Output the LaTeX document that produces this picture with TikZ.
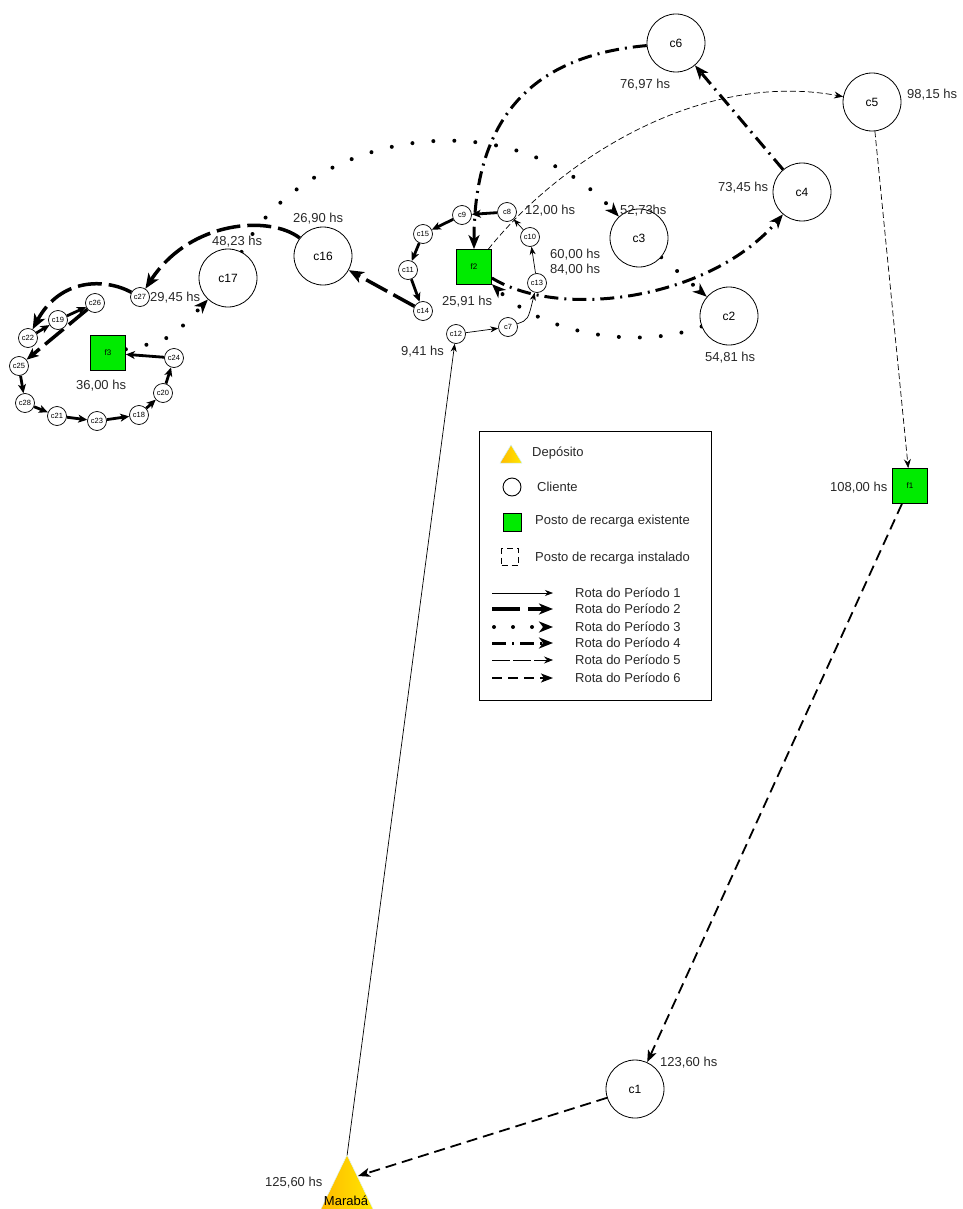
\documentclass[tikz,border=0pt]{standalone}
\usepackage{fontspec}
\setmainfont{Liberation Sans}
\usetikzlibrary{arrows.meta,backgrounds}
\definecolor{fgreen}{RGB}{0,235,0}
\definecolor{tgray}{RGB}{40,40,40}
\definecolor{dorange}{RGB}{255,185,0}
\definecolor{dyellow}{RGB}{255,232,0}
\tikzset{
  big/.style={circle, draw, line width=0.8pt, fill=white, minimum size=58pt, inner sep=0pt, font=\fontsize{12}{14}\selectfont},
  sml/.style={circle, draw, line width=0.7pt, fill=white, minimum size=19pt, inner sep=0pt, font=\fontsize{7.5}{8}\selectfont},
  sta/.style={rectangle, draw, line width=0.8pt, fill=fgreen, minimum size=35pt, inner sep=0pt, font=\fontsize{8}{9}\selectfont},
  ts/.style={anchor=west, inner sep=0pt, text=tgray, font=\fontsize{13}{15}\selectfont},
  pA/.style={line width=0.7pt, -{Stealth[length=8pt,width=6pt,inset=2.5pt]}},
  pB/.style={line width=3.5pt, dash pattern=on 24pt off 7pt, -{Stealth[length=15pt,width=12pt,inset=4pt]}},
  pBs/.style={line width=2.8pt, -{Stealth[length=9pt,width=8pt,inset=2.5pt]}},
  pC/.style={line width=4pt, line cap=round, dash pattern=on 0pt off 21pt, -{Stealth[length=14pt,width=11pt,inset=4pt]}},
  pD/.style={line width=3pt, dash pattern=on 14pt off 6pt on 2pt off 6pt, -{Stealth[length=14pt,width=11pt,inset=4pt]}},
  pE/.style={line width=0.7pt, dash pattern=on 6pt off 3pt, -{Stealth[length=9pt,width=7pt,inset=3pt]}},
  pF/.style={line width=1.8pt, dash pattern=on 11pt off 6pt, -{Stealth[length=12pt,width=9pt,inset=3pt]}}
}
\begin{document}
\begin{tikzpicture}[x=1pt,y=-1pt]
\useasboundingbox (0,0) rectangle (962,1209);

% depot
\shade[left color=dorange, right color=dyellow, draw=cyan!15, line width=0.5pt] (319,1213) -- (347,1155) -- (375,1213) -- cycle;
\coordinate (maraba) at (347,1156);
\coordinate (marabaR) at (358,1176);
\node[inner sep=0pt, font=\fontsize{13}{15}\selectfont] (mtext) at (346,1201) {Marabá};

% big clients
\node[big] (c1) at (635,1089) {c1};
\node[big] (c2) at (729,316) {c2};
\node[big] (c3) at (639,238) {c3};
\node[big] (c4) at (802,192) {c4};
\node[big] (c5) at (872,102) {c5};
\node[big] (c6) at (676,43) {c6};
\node[big] (c16) at (323,256) {c16};
\node[big] (c17) at (228,278) {c17};

% stations
\node[sta] (f1) at (910,486) {f1};
\node[sta] (f2) at (474,267) {f2};
\node[sta] (f3) at (108,353) {f3};

% small clients
\node[sml] (c7) at (508,327) {c7};
\node[sml] (c8) at (507,212) {c8};
\node[sml] (c9) at (462,215) {c9};
\node[sml] (c10) at (530,237) {c10};
\node[sml] (c11) at (408,270) {c11};
\node[sml] (c12) at (456,334) {c12};
\node[sml] (c13) at (537,283) {c13};
\node[sml] (c14) at (423,311) {c14};
\node[sml] (c15) at (423,234) {c15};
\node[sml] (c18) at (139,415) {c18};
\node[sml] (c19) at (58,320) {c19};
\node[sml] (c20) at (163,393) {c20};
\node[sml] (c21) at (57,416) {c21};
\node[sml] (c22) at (28,338) {c22};
\node[sml] (c23) at (97,421) {c23};
\node[sml] (c24) at (174,358) {c24};
\node[sml] (c25) at (19,366) {c25};
\node[sml] (c26) at (95,303) {c26};
\node[sml] (c27) at (140,297) {c27};
\node[sml] (c28) at (25,403) {c28};

% time labels
\node[ts] (t1) at (620,85) {76,97 hs};
\node[ts] (t2) at (907,95) {98,15 hs};
\node[ts] (t3) at (718,188) {73,45 hs};
\node[ts] (t4) at (620,211) {52,73hs};
\node[ts] (t5) at (705,358) {54,81 hs};
\node[ts] (t6) at (525,211) {12,00 hs};
\node[ts] (t7) at (550,255) {60,00 hs};
\node[ts] (t8) at (550,270) {84,00 hs};
\node[ts] (t9) at (442,302) {25,91 hs};
\node[ts] (t10) at (401,352) {9,41 hs};
\node[ts] (t11) at (293,219) {26,90 hs};
\node[ts] (t12) at (212,242) {48,23 hs};
\node[ts] (t13) at (150,298) {29,45 hs};
\node[ts] (t14) at (76,386) {36,00 hs};
\node[ts] (t15) at (830,488) {108,00 hs};
\node[ts] (t16) at (660,1063) {123,60 hs};
\node[ts] (t17) at (265,1183) {125,60 hs};

\begin{pgfonlayer}{background}
% period 1
\draw[pA] (maraba) -- (c12);
\draw[pA] (c12) -- (c7);
\draw[pA] (c7) .. controls (528,320) .. (c13);
\draw[pA] (c13) -- (c10);
\draw[pA] (c10) -- (c8);
% period 2
\draw[pBs] (c8) -- (c9);
\draw[pBs] (c9) -- (c15);
\draw[pBs] (c15) -- (c11);
\draw[pBs] (c11) -- (c14);
\draw[pB] (c14) -- (c16);
\draw[pB] (c16) .. controls (270,215) and (190,220) .. (c27);
\draw[pB] (c27) .. controls (105,278) and (60,278) .. (c22);
\draw[pBs] (c22) -- (c19);
\draw[pBs] (c19) -- (c26);
\draw[pB, -{Stealth[length=12pt,width=10pt,inset=3pt]}] (c26) -- (c25);
\draw[pBs] (c25) -- (c28);
\draw[pBs] (c28) -- (c21);
\draw[pBs] (c21) -- (c23);
\draw[pBs] (c23) -- (c18);
\draw[pBs] (c18) -- (c20);
\draw[pBs] (c20) -- (c24);
\draw[pBs] (c24) -- (f3);
% period 3
\draw[pC] (f3) .. controls (170,340) .. (c17);
\draw[pC] (c17) .. controls (300,140) and (500,90) .. (c3);
\draw[pC] (c3) -- (c2);
\draw[pC] (c2) .. controls (640,350) and (545,335) .. (f2);
% period 4
\draw[pD] (f2) .. controls (560,320) and (710,300) .. (c4);
\draw[pD] (c4) -- (c6);
\draw[pD] (c6) .. controls (540,55) and (474,110) .. (f2);
% period 5
\draw[pE] (f2) .. controls (560,160) and (700,70) .. (c5);
\draw[pE] (c5) -- (f1);
% period 6
\draw[pF] (f1) -- (c1);
\draw[pF] (c1) -- (marabaR);
\end{pgfonlayer}

% legend
\draw[line width=0.9pt] (479,431) rectangle (711,700);
\shade[left color=dorange, right color=dyellow, draw=cyan!20, line width=0.5pt] (500,463) -- (511,445) -- (522,463) -- cycle;
\node[ts] (lg1) at (532,453) {Depósito};
\node[circle, draw, line width=0.9pt, minimum size=18pt, inner sep=0pt] (lgc) at (512,487) {};
\node[ts] (lg2) at (537,487) {Cliente};
\node[rectangle, draw, line width=0.8pt, fill=fgreen, minimum size=18pt, inner sep=0pt] (lgf) at (512,522) {};
\node[ts] (lg3) at (535,521) {Posto de recarga existente};
\node[rectangle, draw, line width=0.9pt, dash pattern=on 6pt off 4pt, minimum size=17pt, inner sep=0pt] (lgd) at (510,557) {};
\node[ts] (lg4) at (535,558) {Posto de recarga instalado};

\coordinate (l1a) at (492,593); \coordinate (l1b) at (553,593);
\coordinate (l2a) at (492,609); \coordinate (l2b) at (553,609);
\coordinate (l3a) at (494,627); \coordinate (l3b) at (553,627);
\coordinate (l4a) at (492,643); \coordinate (l4b) at (553,643);
\coordinate (l5a) at (492,660); \coordinate (l5b) at (553,660);
\coordinate (l6a) at (492,678); \coordinate (l6b) at (553,678);
\draw[pA] (l1a) -- (l1b);
\draw[pB, dash pattern=on 28pt off 8pt, -{Stealth[length=14pt,width=11pt,inset=4pt]}] (l2a) -- (l2b);
\draw[pC, dash pattern=on 0pt off 19pt] (l3a) -- (l3b);
\draw[pD] (l4a) -- (l4b);
\draw[pE, dash pattern=on 18pt off 3pt] (l5a) -- (l5b);
\draw[pF, line width=1.5pt, dash pattern=on 10pt off 6pt] (l6a) -- (l6b);
\node[ts] (r1) at (575,593) {Rota do Período 1};
\node[ts] (r2) at (575,609) {Rota do Período 2};
\node[ts] (r3) at (575,627) {Rota do Período 3};
\node[ts] (r4) at (575,643) {Rota do Período 4};
\node[ts] (r5) at (575,660) {Rota do Período 5};
\node[ts] (r6) at (575,678) {Rota do Período 6};
\end{tikzpicture}
\end{document}
